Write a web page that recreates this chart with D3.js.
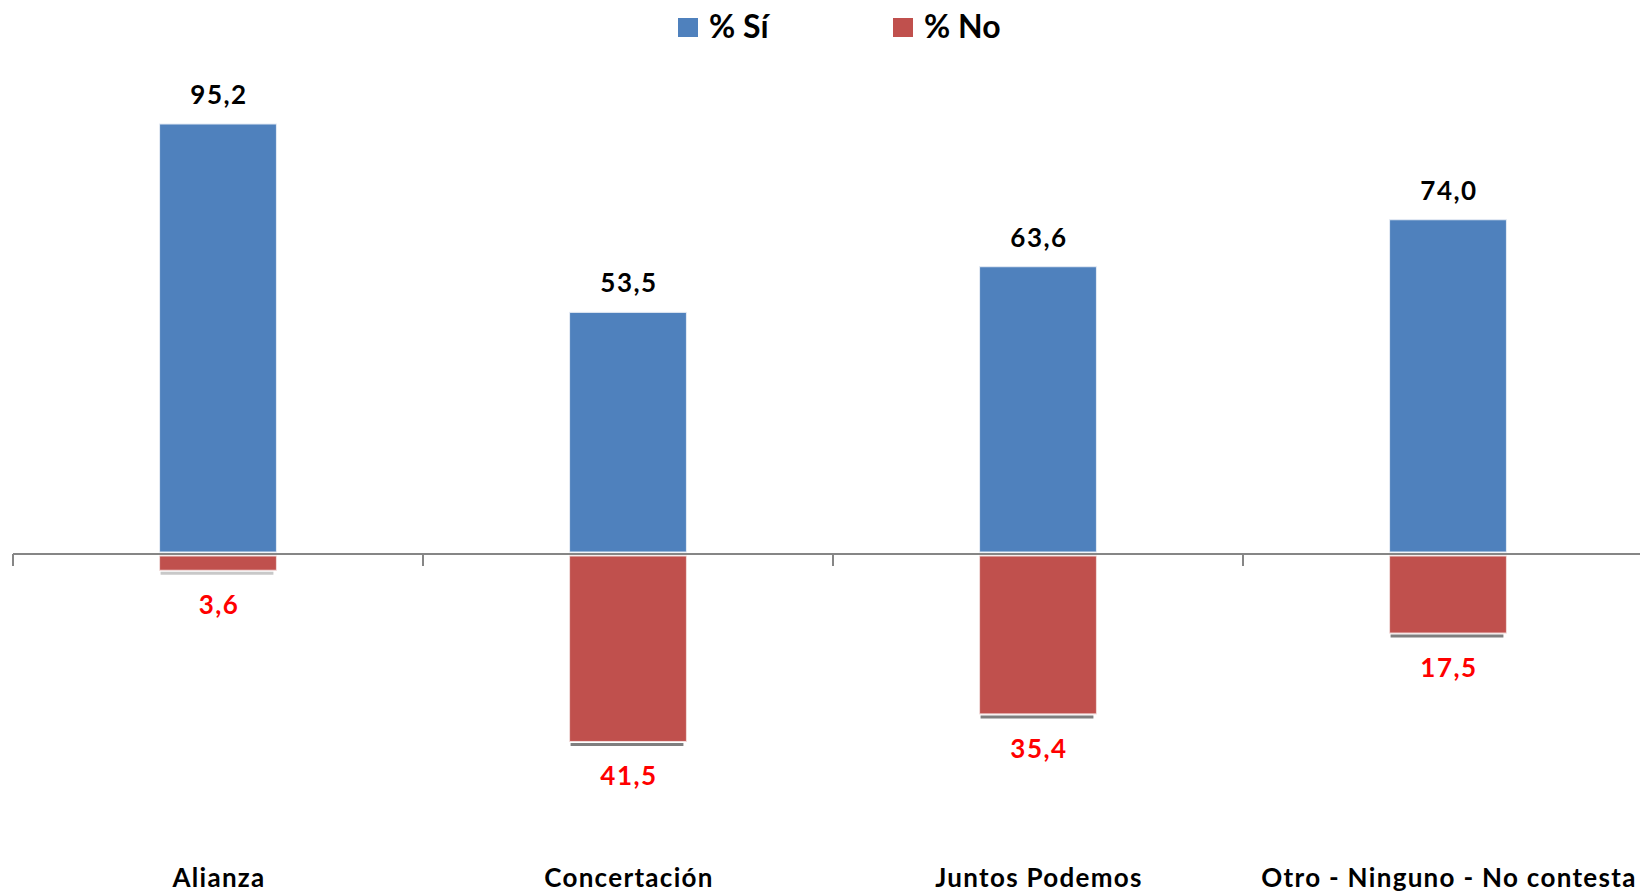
<!DOCTYPE html>
<html><head><meta charset="utf-8">
<script src="https://cdn.jsdelivr.net/npm/d3@7"></script>
<style>html,body{margin:0;padding:0;background:#fff;}svg{display:block;}</style>
</head><body>
<svg id="chart" width="1640" height="892"></svg>
<script>
const categories = ["Alianza", "Concertación", "Juntos Podemos", "Otro - Ninguno - No contesta"];
const siValues = [95.2, 53.5, 63.6, 74.0];
const noValues = [3.6, 41.5, 35.4, 17.5];
const seriesNames = ["% Sí", "% No"];
const seriesColors = ["#4F81BD", "#C0504D"];

const svg = d3.select("#chart");
const font = "Lato, 'Open Sans', sans-serif";
const fmt = v => d3.format(".1f")(v).replace(".", ",");

const x = d3.scaleBand().domain(categories).range([13, 1653]).padding(0);
const y = d3.scaleLinear().domain([-60, 100]).range([554 + 60 * 4.517, 554 - 100 * 4.517]);
const barFrac = 0.285;
const bw = x.bandwidth() * barFrac;
const bx = c => x(c) + (x.bandwidth() - bw) / 2;
const cx = c => x(c) + x.bandwidth() / 2 + 1;

// blue bars
svg.append("g").selectAll("rect").data(categories).join("rect")
  .attr("x", c => bx(c)).attr("width", bw)
  .attr("y", (c, i) => y(siValues[i])).attr("height", (c, i) => y(0) - 2 - y(siValues[i]))
  .attr("fill", seriesColors[0]).attr("stroke", "#e6ecf5").attr("stroke-width", 1);

// red bars
svg.append("g").selectAll("rect").data(categories).join("rect")
  .attr("x", c => bx(c)).attr("width", bw)
  .attr("y", y(0) + 2).attr("height", (c, i) => y(-noValues[i]) - y(0) - 2)
  .attr("fill", seriesColors[1]).attr("stroke", "#f2dcdb").attr("stroke-width", 1);

// shadow line under red bars
svg.append("g").selectAll("line").data(categories).join("line")
  .attr("x1", c => bx(c) + 1).attr("x2", c => bx(c) + bw - 3)
  .attr("y1", (c, i) => y(-noValues[i]) + 3).attr("y2", (c, i) => y(-noValues[i]) + 3)
  .attr("stroke", (c, i) => i === 0 ? "#c8c8c8" : "#7f7f7f").attr("stroke-width", 3);

// axis
const axisG = svg.append("g");
axisG.append("line").attr("x1", 13).attr("x2", 1640).attr("y1", y(0)).attr("y2", y(0))
  .attr("stroke", "#868686").attr("stroke-width", 2);
axisG.selectAll("line.tick").data(categories).join("line").attr("class", "tick")
  .attr("x1", c => x(c)).attr("x2", c => x(c)).attr("y1", y(0)).attr("y2", y(0) + 12)
  .attr("stroke", "#868686").attr("stroke-width", 2);

// value labels
svg.append("g").selectAll("text").data(categories).join("text")
  .attr("x", cx).attr("y", (c, i) => y(siValues[i]) - 20)
  .attr("text-anchor", "middle").attr("font-family", font).attr("font-weight", 700)
  .attr("font-size", 26).attr("letter-spacing", 1.5).attr("fill", "#000").text((c, i) => fmt(siValues[i]));
svg.append("g").selectAll("text").data(categories).join("text")
  .attr("x", cx).attr("y", (c, i) => y(-noValues[i]) + 44)
  .attr("text-anchor", "middle").attr("font-family", font).attr("font-weight", 700)
  .attr("font-size", 26).attr("letter-spacing", 1.5).attr("fill", "#FF0000").text((c, i) => fmt(noValues[i]));

// category labels
svg.append("g").selectAll("text").data(categories).join("text")
  .attr("x", cx).attr("y", 887)
  .attr("text-anchor", "middle").attr("font-family", font).attr("font-weight", 700)
  .attr("font-size", 26).attr("letter-spacing", 1.3).attr("fill", "#000").text(c => c);

// legend
const legendX = [678, 893];
const lg = svg.append("g").selectAll("g").data(seriesNames).join("g")
  .attr("transform", (d, i) => `translate(${legendX[i]},18)`);
lg.append("rect").attr("width", 20).attr("height", 19).attr("fill", (d, i) => seriesColors[i]);
lg.append("text").attr("x", 31).attr("y", 20).attr("font-family", font).attr("font-weight", 700)
  .attr("font-size", 32).attr("fill", "#000").text(d => d);
</script>
</body></html>
